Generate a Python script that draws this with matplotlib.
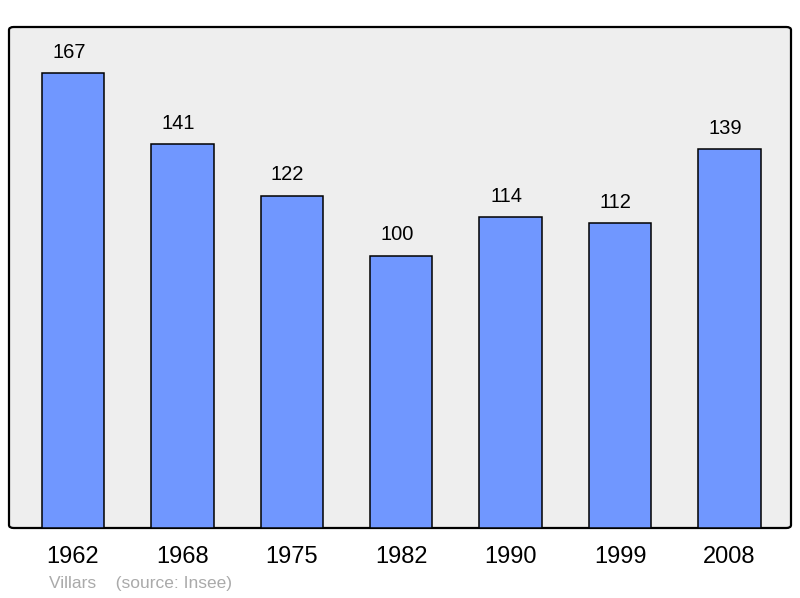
import matplotlib
matplotlib.use("Agg")
import matplotlib.pyplot as plt
from matplotlib.patches import FancyBboxPatch

years = ["1962", "1968", "1975", "1982", "1990", "1999", "2008"]
population = [167, 141, 122, 100, 114, 112, 139]
caption = "Villars    (source: Insee)"

plt.rcParams['font.family'] = ['Liberation Sans', 'DejaVu Sans']

fig = plt.figure(figsize=(8, 5.98), dpi=100)
ax = fig.add_axes([9/800, 70/598, 782/800, 501/598])
ax.set_facecolor('none')
for s in ax.spines.values():
    s.set_visible(False)

frame = FancyBboxPatch((0, 0), 1, 1, boxstyle="round,pad=0,rounding_size=0.006",
                       transform=ax.transAxes, facecolor='#eeeeee', edgecolor='black',
                       linewidth=1.6, zorder=0, clip_on=False)
ax.add_patch(frame)

x = list(range(len(years)))
bars = ax.bar(x, population, width=0.57, color='#7097ff', edgecolor='black',
              linewidth=1.1, zorder=2)
for xi, v in zip(x, population):
    ax.annotate(str(v), (xi, v), xytext=(-3, 11), textcoords='offset points',
                ha='center', va='baseline', fontsize=14.5, color='black')

ax.set_xlim(-0.585, 6.562)
ax.set_ylim(0, 183.9)
ax.set_xticks(x)
ax.set_xticklabels(years, fontsize=17)
ax.tick_params(axis='x', length=0, pad=13)
ax.set_yticks([])

fig.text(49/800, 1 - 588/598, caption, fontsize=12.5, color='#aaaaaa',
         ha='left', va='baseline')

fig.savefig("out.png", dpi=100)
